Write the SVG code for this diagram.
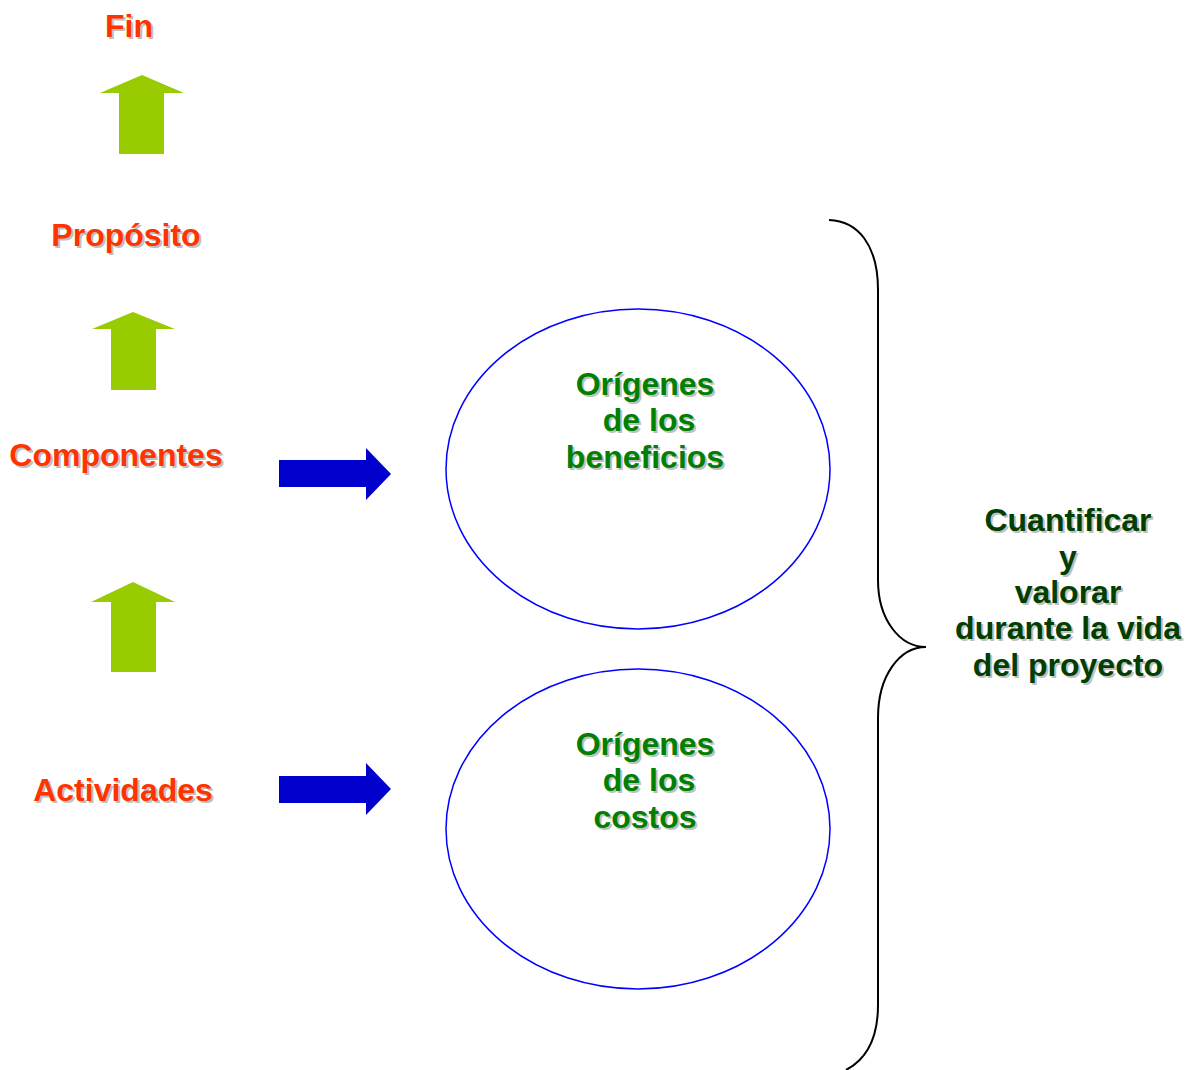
<svg xmlns="http://www.w3.org/2000/svg" width="1192" height="1070" viewBox="0 0 1192 1070">
<defs>
<style>
text{font-family:"Liberation Sans",Arial,sans-serif;font-weight:bold;font-size:32px;text-anchor:middle}
.sh{fill:#C0C0C0}
.red{fill:#FF3300}
.grn{fill:#008000}
.dk{fill:#003F00}
.up{fill:#99CC00}
.rt{fill:#0000CC}
.ell{fill:none;stroke:#0000FF;stroke-width:1.5}
.brace{fill:none;stroke:#000;stroke-width:2}
</style>
</defs>
<rect width="1192" height="1070" fill="#fff"/>
<g id="fin">
<text class="sh" x="131" y="39">Fin</text>
<text class="red" x="129" y="37">Fin</text>
</g>
<g id="proposito">
<text class="sh" x="128" y="248">Propósito</text>
<text class="red" x="126" y="246">Propósito</text>
</g>
<g id="componentes">
<text class="sh" x="118" y="468">Componentes</text>
<text class="red" x="116" y="466">Componentes</text>
</g>
<g id="actividades">
<text class="sh" x="125" y="803">Actividades</text>
<text class="red" x="123" y="801">Actividades</text>
</g>
<g id="beneficios">
<ellipse class="ell" cx="638" cy="469" rx="192" ry="160"/>
<text class="sh" x="647" y="397">Orígenes</text>
<text class="grn" x="645" y="395">Orígenes</text>
<text class="sh" x="651" y="433">de los</text>
<text class="grn" x="649" y="431">de los</text>
<text class="sh" x="647" y="470">beneficios</text>
<text class="grn" x="645" y="468">beneficios</text>
</g>
<g id="costos">
<ellipse class="ell" cx="638" cy="829" rx="192" ry="160"/>
<text class="sh" x="647" y="757">Orígenes</text>
<text class="grn" x="645" y="755">Orígenes</text>
<text class="sh" x="651" y="793">de los</text>
<text class="grn" x="649" y="791">de los</text>
<text class="sh" x="647" y="830">costos</text>
<text class="grn" x="645" y="828">costos</text>
</g>
<g id="cuantificar">
<text class="sh" x="1070" y="533">Cuantificar</text>
<text class="dk" x="1068" y="531">Cuantificar</text>
<text class="sh" x="1070" y="570">y</text>
<text class="dk" x="1068" y="568">y</text>
<text class="sh" x="1070" y="605">valorar</text>
<text class="dk" x="1068" y="603">valorar</text>
<text class="sh" x="1070" y="641">durante la vida</text>
<text class="dk" x="1068" y="639">durante la vida</text>
<text class="sh" x="1070" y="678">del proyecto</text>
<text class="dk" x="1068" y="676">del proyecto</text>
</g>
<g id="connectors">
<polygon class="up" points="142,75 184,93 164,93 164,154 119,154 119,93 100,93"/>
<polygon class="up" points="133,312 175,329 156,329 156,390 111,390 111,329 92,329"/>
<polygon class="up" points="133,582 175,602 156,602 156,672 111,672 111,602 91,602"/>
<polygon class="rt" points="279,460 366,460 366,448 391,474 366,500 366,487 279,487"/>
<polygon class="rt" points="279,776 366,776 366,763 391,789 366,815 366,803 279,803"/>
<path class="brace" d="M829,220 C858,221 878,245 878,290 L878,580 C878,620 900,647 926,647 C900,647 878,675 878,718 L878,1005 C878,1040 865,1060 846,1070"/>
</g>
</svg>
